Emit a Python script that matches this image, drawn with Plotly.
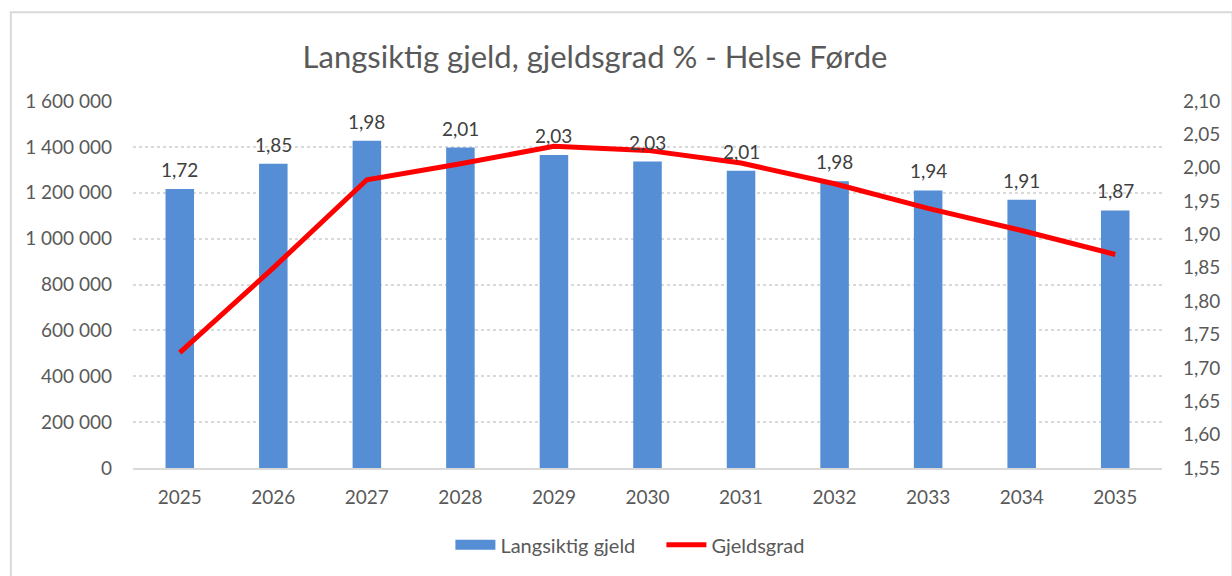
import plotly.graph_objects as go

years = ["2025", "2026", "2027", "2028", "2029", "2030", "2031", "2032", "2033", "2034", "2035"]
langsiktig_gjeld = [1216000, 1326000, 1427000, 1397000, 1365000, 1336000, 1296000, 1250000, 1210000, 1170000, 1123000]
gjeldsgrad = [1.723, 1.85, 1.982, 2.006, 2.032, 2.026, 2.007, 1.976, 1.939, 1.906, 1.870]
left_ticks = [0, 200000, 400000, 600000, 800000, 1000000, 1200000, 1400000, 1600000]
right_ticks = [1.55, 1.60, 1.65, 1.70, 1.75, 1.80, 1.85, 1.90, 1.95, 2.00, 2.05, 2.10]

FONT = "Lato"
TXT = "#595959"
GRID = "#D9D9D9"
BLUE = "#558ED5"
RED = "#FF0000"

labels = [f"{v:.2f}".replace(".", ",") for v in gjeldsgrad]

fig = go.Figure()
fig.add_trace(go.Bar(
    x=years, y=langsiktig_gjeld, name="Langsiktig gjeld",
    marker=dict(color=BLUE, line=dict(width=0)),
    width=0.305, showlegend=False,
    yaxis="y",
))
# legend-only entry drawn as a wide rectangle, like the reference legend
fig.add_trace(go.Scatter(
    x=[years[0]], y=[None], name="Langsiktig gjeld", mode="lines",
    line=dict(color=BLUE, width=12), yaxis="y", hoverinfo="skip",
))
fig.add_trace(go.Scatter(
    x=years, y=gjeldsgrad, name="Gjeldsgrad", mode="lines",
    line=dict(color=RED, width=5),
    yaxis="y2",
))

# data labels above the bars (category index positions on the x axis)
for i, (v, lab) in enumerate(zip(langsiktig_gjeld, labels)):
    fig.add_annotation(x=i, y=v, xref="x", yref="y", text=lab, showarrow=False,
                       yanchor="bottom", yshift=6,
                       font=dict(family=FONT, size=19, color="#404040"))

W, H = 1232, 576
L, R, T, B = 133, 1169, 101, 469
pw, ph = R - L, B - T

fig.update_layout(
    width=W, height=H,
    margin=dict(l=L, r=W - R, t=T, b=H - B, pad=0),
    paper_bgcolor="white", plot_bgcolor="white",
    separators=", ",
    font=dict(family=FONT, size=19, color=TXT),
    title=dict(text="Langsiktig gjeld, gjeldsgrad % - Helse Førde",
               x=595 / W, xref="container", xanchor="center",
               y=1 - 57 / H, yref="container", yanchor="middle",
               font=dict(family=FONT, size=31, color=TXT)),
    xaxis=dict(type="category", categoryorder="array", categoryarray=years,
               range=[-0.5, len(years) - 0.5], autorange=False,
               showgrid=False, showline=True, linecolor=GRID, linewidth=1.5,
               ticks="", ticklabelstandoff=11, tickfont=dict(size=19, color=TXT)),
    yaxis=dict(range=[0, 1600000], tickvals=left_ticks, tickformat=",d",
               showgrid=True, gridcolor=GRID, griddash="dot", gridwidth=1.5,
               zeroline=False, showline=False, ticks="", ticklabelstandoff=20,
               tickfont=dict(size=19, color=TXT)),
    yaxis2=dict(range=[1.55, 2.10], tickvals=right_ticks, tickformat=".2f",
                overlaying="y", side="right", showgrid=False, zeroline=False,
                showline=False, ticks="", ticklabelstandoff=20,
                tickfont=dict(size=19, color=TXT)),
    legend=dict(orientation="h", x=(665 - L) / pw, xanchor="center",
                y=(B - 546) / ph, yanchor="middle",
                font=dict(family=FONT, size=20, color=TXT),
                itemwidth=40, entrywidth=156, tracegroupgap=0),
    showlegend=True,
    shapes=[dict(type="rect", xref="paper", yref="paper",
                 x0=(10 - L) / pw, x1=(1240 - L) / pw,
                 y0=(B - 600) / ph, y1=(B - 12) / ph,
                 line=dict(color=GRID, width=2), fillcolor="rgba(0,0,0,0)", layer="below")],
)

fig.write_html("out.html", config={"displayModeBar": False},
               post_script="document.body.style.margin='0px';document.body.style.overflow='hidden';")
